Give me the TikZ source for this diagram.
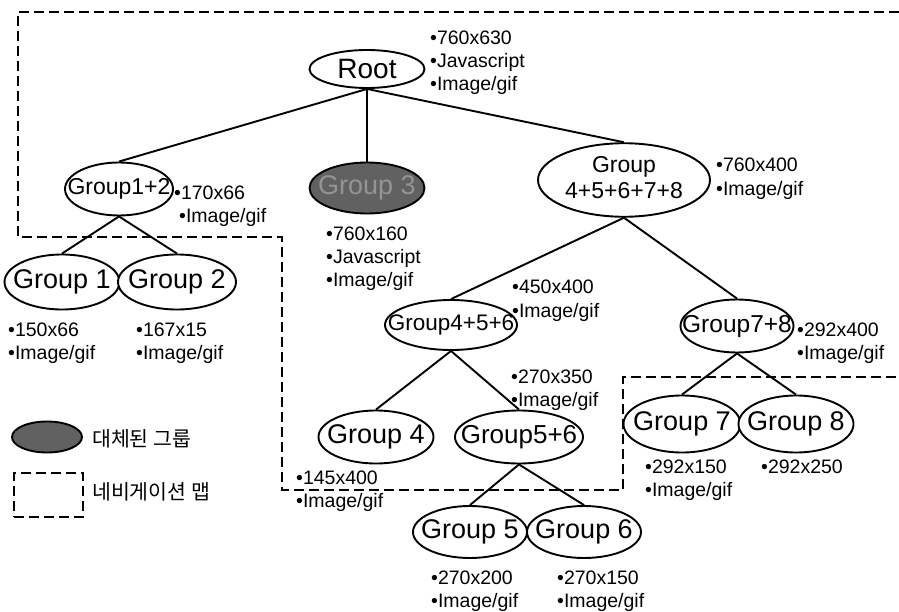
\documentclass[tikz,border=0pt]{standalone}
\usepackage{fontspec}
\setmainfont{Liberation Sans}
\newfontfamily\krfont{Noto Sans CJK KR}
\usetikzlibrary{shapes.geometric}
\newcommand\fsz[1]{\fontsize{#1}{#1}\selectfont}
\tikzset{
  grp/.style={draw, ellipse, line width=1.9pt, inner sep=0pt, fill=white,
    execute at begin node={\hbox to 0pt\bgroup\hss},
    execute at end node={\hss\egroup}},
  repl/.style={grp, fill=black!62, text=black!42},
  lbl/.style={anchor=base west, inner sep=0pt, font=\fsz{19.5}},
  edge/.style={line width=1.9pt},
  navmap/.style={line width=1.9pt, dash pattern=on 10pt off 5pt},
}
\begin{document}
\begin{tikzpicture}[x=1pt,y=-1pt]
\useasboundingbox (0,0) rectangle (899,612);
% navigation map outline
\coordinate (nA) at (899,12);
\coordinate (nB) at (18,12);
\coordinate (nC) at (18,237);
\coordinate (nD) at (282,237);
\coordinate (nE) at (282,490);
\coordinate (nF) at (623,490);
\coordinate (nG) at (623,377);
\coordinate (nH) at (899,377);
\draw[navmap] (nA) -- (nB) -- (nC) -- (nD) -- (nE) -- (nF) -- (nG) -- (nH);

% nodes
\node[grp, minimum width=115pt, minimum height=38pt, font=\fsz{28}] (root) at (367,69) {Root};
\node[grp, minimum width=108pt, minimum height=53pt, font=\fsz{23}] (g12) at (119,189) {Group1+2};
\node[repl, minimum width=115pt, minimum height=51pt, font=\fsz{27}] (g3) at (367,188) {Group 3};
\node[grp, minimum width=172pt, minimum height=69pt, font=\fontsize{23}{26}\selectfont] (g45678) at (624,180) {\begin{tabular}{@{}c@{}}Group\\4+5+6+7+8\end{tabular}};
\node[grp, minimum width=115pt, minimum height=55pt, font=\fsz{27}] (g1) at (62,282) {Group 1};
\node[grp, minimum width=118pt, minimum height=55pt, font=\fsz{27}] (g2) at (177,282) {Group 2};
\node[grp, minimum width=132pt, minimum height=50pt, font=\fsz{22.5}] (g456) at (451,325) {Group4+5+6};
\node[grp, minimum width=113pt, minimum height=53pt, font=\fsz{24.5}] (g78) at (737,326) {Group7+8};
\node[grp, minimum width=115pt, minimum height=53pt, font=\fsz{27}] (g4) at (376,437) {Group 4};
\node[grp, minimum width=128pt, minimum height=53pt, font=\fsz{26}] (g56) at (519,437) {Group5+6};
\node[grp, minimum width=117pt, minimum height=57pt, font=\fsz{27}] (g7) at (682,424) {Group 7};
\node[grp, minimum width=115pt, minimum height=57pt, font=\fsz{27}] (g8) at (796,424) {Group 8};
\node[grp, minimum width=114pt, minimum height=52pt, font=\fsz{27}] (g5) at (470,532) {Group 5};
\node[grp, minimum width=114pt, minimum height=52pt, font=\fsz{27}] (g6) at (584,532) {Group 6};

% edges
\draw[edge] (root.south) -- (g12.north);
\draw[edge] (root.south) -- (g3.north);
\draw[edge] (root.south) -- (g45678.north);
\draw[edge] (g12.south) -- (g1.north);
\draw[edge] (g12.south) -- (g2.north);
\draw[edge] (g45678.south) -- (g456.north);
\draw[edge] (g45678.south) -- (g78.north);
\draw[edge] (g456.south) -- (g4.north);
\draw[edge] (g456.south) -- (g56.north);
\draw[edge] (g78.south) -- (g7.north);
\draw[edge] (g78.south) -- (g8.north);
\draw[edge] (g56.south) -- (g5.north);
\draw[edge] (g56.south) -- (g6.north);

% labels
\node[lbl] (lr1) at (430,45) {•760x630};
\node[lbl] (lr2) at (430,68) {•Javascript};
\node[lbl] (lr3) at (430,91) {•Image/gif};
\node[lbl] (l121) at (174,200) {•170x66};
\node[lbl] (l122) at (179,223) {•Image/gif};
\node[lbl] (l31) at (326,241) {•760x160};
\node[lbl] (l32) at (326,264) {•Javascript};
\node[lbl] (l33) at (326,287) {•Image/gif};
\node[lbl] (lx1) at (716,172) {•760x400};
\node[lbl] (lx2) at (716,196) {•Image/gif};
\node[lbl] (l11) at (8,336) {•150x66};
\node[lbl] (l12) at (8,359) {•Image/gif};
\node[lbl] (l21) at (136,336) {•167x15};
\node[lbl] (l22) at (136,359) {•Image/gif};
\node[lbl] (l4561) at (512,293) {•450x400};
\node[lbl] (l4562) at (512,317) {•Image/gif};
\node[lbl] (l781) at (797,336) {•292x400};
\node[lbl] (l782) at (797,359) {•Image/gif};
\node[lbl] (l561) at (511,383) {•270x350};
\node[lbl] (l562) at (511,406) {•Image/gif};
\node[lbl] (l41) at (296,484) {•145x400};
\node[lbl] (l42) at (296,507) {•Image/gif};
\node[lbl] (l71) at (645,473) {•292x150};
\node[lbl] (l72) at (645,496) {•Image/gif};
\node[lbl] (l81) at (761,473) {•292x250};
\node[lbl] (l51) at (431,584) {•270x200};
\node[lbl] (l52) at (431,607) {•Image/gif};
\node[lbl] (l61) at (557,584) {•270x150};
\node[lbl] (l62) at (557,607) {•Image/gif};

% legend
\node[grp, fill=black!62, minimum width=70pt, minimum height=31pt] (legrepl) at (47,437) {};
\node[anchor=west, inner sep=0pt, font=\krfont\fsz{20.5}] (legrepltxt) at (92,439) {대체된 그룹};
\node[draw, navmap, minimum width=69pt, minimum height=44pt, inner sep=0pt] (legnav) at (48.5,495) {};
\node[anchor=west, inner sep=0pt, font=\krfont\fsz{20.5}] (legnavtxt) at (92,492) {네비게이션 맵};
\end{tikzpicture}
\end{document}
